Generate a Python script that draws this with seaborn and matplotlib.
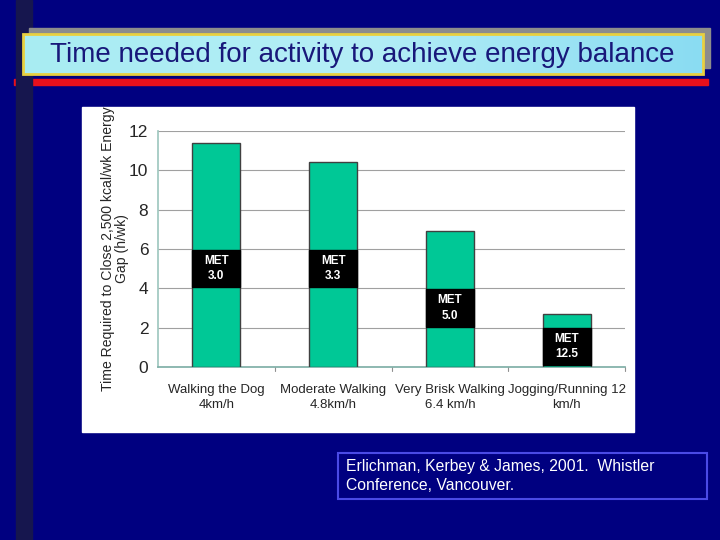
import numpy as np
import pandas as pd
import seaborn as sns
import matplotlib.pyplot as plt
from matplotlib.patches import Rectangle
from matplotlib.colors import LinearSegmentedColormap

# data
activities = ["Walking the Dog\n4km/h", "Moderate Walking\n4.8km/h",
              "Very Brisk Walking\n6.4 km/h", "Jogging/Running 12\nkm/h"]
hours = [11.4, 10.4, 6.9, 2.7]
met_labels = ["MET\n3.0", "MET\n3.3", "MET\n5.0", "MET\n12.5"]
met_label_y = [5.0, 5.0, 3.0, 1.05]
y_ticks = [0, 2, 4, 6, 8, 10, 12]

title = "Time needed for activity to achieve energy balance"
ylab = "Time Required to Close 2,500 kcal/wk Energy\nGap (h/wk)"
citation = "Erlichman, Kerbey & James, 2001.  Whistler\nConference, Vancouver."

df = pd.DataFrame({"activity": activities, "hours": hours})

sns.set_theme(style="white")
plt.rcParams["font.family"] = ["Liberation Sans", "DejaVu Sans"]

navy = "#000080"
fig = plt.figure(figsize=(7.2, 5.4), dpi=100, facecolor=navy)

# slide decoration in pixel coordinates
bg = fig.add_axes([0, 0, 1, 1])
bg.set_xlim(0, 720)
bg.set_ylim(540, 0)
bg.axis("off")
bg.add_patch(Rectangle((14, 79), 694, 6, color="#E8101C"))
bg.add_patch(Rectangle((16, 0), 16, 540, color="#16164E"))
bg.add_patch(Rectangle((29, 28), 681, 40, color="#8C8C8C"))
grad = np.linspace(0, 1, 256).reshape(1, -1)
cmap = LinearSegmentedColormap.from_list("t", ["#A8ECF2", "#B4EEF6", "#8ADCF2"])
bg.imshow(grad, extent=(23, 703, 74, 34), cmap=cmap, aspect="auto", zorder=2)
bg.add_patch(Rectangle((23, 34), 680, 40, fill=False, ec="#E8D040", lw=2, zorder=3))
bg.text(362, 55, title, ha="center", va="center", fontsize=20, color="#18187A", zorder=4)
bg.add_patch(Rectangle((82, 107), 552, 325, color="white", zorder=1))
bg.add_patch(Rectangle((338, 453), 369, 46, fill=False, ec="#4A4AE6", lw=1.5))
bg.text(346, 476, citation, ha="left", va="center", fontsize=11.3, color="white",
        linespacing=1.25)

ax = fig.add_axes([158 / 720, 1 - 367 / 540, 467 / 720, 236 / 540])
ax.set_facecolor("white")
bar_w = 0.41
sns.barplot(data=df, x="activity", y="hours", color="#00C896", width=bar_w,
            edgecolor="#404040", linewidth=1, saturation=1, ax=ax, zorder=3)

for i, (lab, ly) in enumerate(zip(met_labels, met_label_y)):
    ax.add_patch(Rectangle((i - bar_w / 2, ly - 0.95), bar_w, 1.9, fc="black",
                           ec="black", zorder=4))
    ax.text(i, ly, lab, ha="center", va="center", color="white", fontsize=8.5,
            fontweight="bold", zorder=5, linespacing=1.35)

ax.set_ylim(0, 12)
ax.set_xlim(-0.5, 3.5)
ax.set_yticks(y_ticks)
ax.set_yticklabels([str(t) for t in y_ticks], fontsize=12.5)
ax.yaxis.grid(True, color="#A0A0A0", lw=0.8)
ax.set_axisbelow(True)
ax.set_xticks(range(len(activities)))
ax.set_xticklabels(activities, fontsize=9.5, linespacing=1.35)
ax.tick_params(axis="x", length=0, pad=12)
ax.tick_params(axis="y", length=0, pad=7)
for x in [0.5, 1.5, 2.5, 3.5]:
    ax.plot([x, x], [0, -0.2], color="#909090", lw=0.8, clip_on=False)
ax.set_xlabel("")
ax.set_ylabel(ylab, fontsize=10.1, labelpad=0, linespacing=1.0)
for s in ["top", "right"]:
    ax.spines[s].set_visible(False)
ax.spines["left"].set_color("#A0C8C0")
ax.spines["bottom"].set_color("#80B0A8")

fig.savefig("out.png", dpi=100, facecolor=navy)
